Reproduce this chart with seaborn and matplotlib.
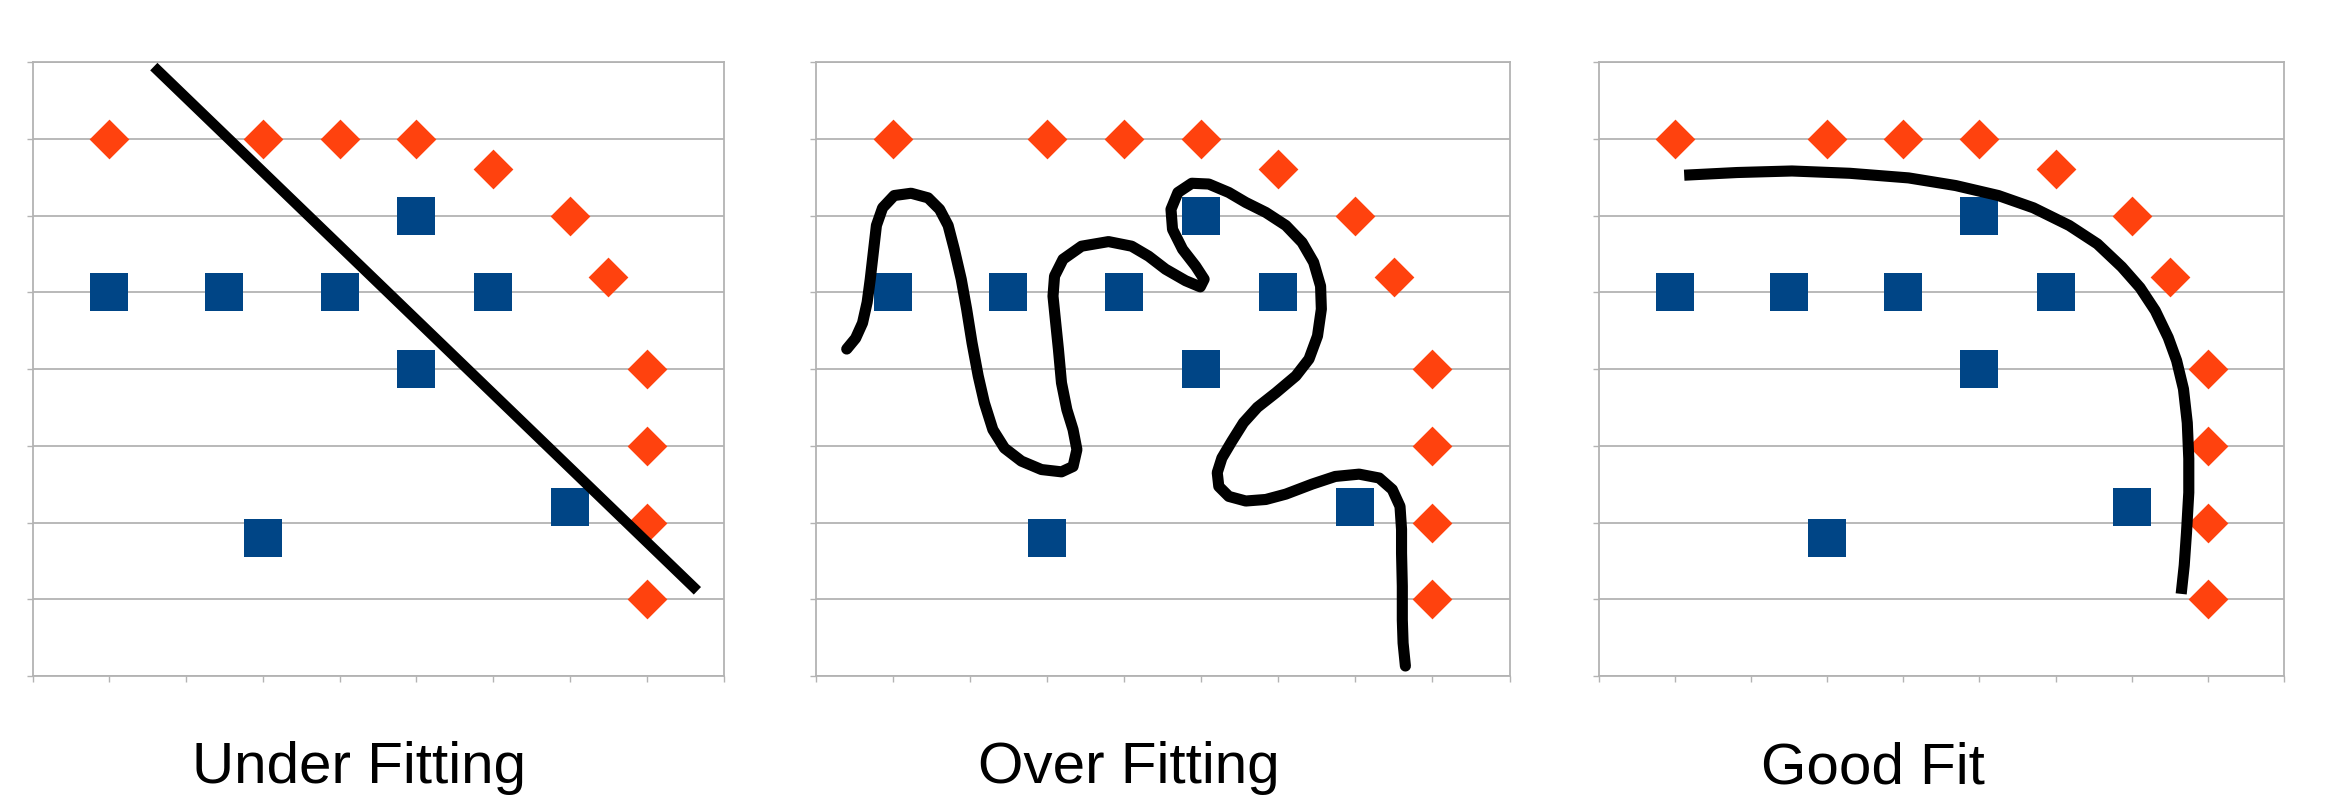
import numpy as np
import pandas as pd
import seaborn as sns
import matplotlib.pyplot as plt

sns.set_style("white")
plt.rcParams['font.family'] = ['Liberation Sans', 'DejaVu Sans']

# class A (orange diamonds) and class B (blue squares), same in every panel
diamond_x = [1, 3, 4, 5, 6, 7, 7.5, 8, 8, 8, 8]
diamond_y = [7, 7, 7, 7, 6.6, 6, 5.2, 4, 3, 2, 1]
square_x = [1, 2.5, 4, 5, 6, 5, 3, 7]
square_y = [5, 5, 5, 6, 5, 4, 1.8, 2.2]

# fitted boundaries
under_x = [1.58, 8.66]
under_y = [7.94, 1.11]

over_x = [0.405, 0.52, 0.61, 0.67, 0.71, 0.75, 0.79, 0.87, 1.02, 1.24, 1.46, 1.61, 1.72,
          1.80, 1.89, 1.96, 2.03, 2.11, 2.19, 2.30, 2.45, 2.67, 2.93, 3.19, 3.34, 3.39,
          3.34, 3.26, 3.19, 3.15, 3.11, 3.08, 3.10, 3.21, 3.45, 3.80, 4.10, 4.32, 4.54,
          4.80, 4.99, 5.04, 4.93, 4.76, 4.63, 4.61, 4.70, 4.88, 5.10, 5.36, 5.58, 5.84,
          6.10, 6.31, 6.46, 6.55, 6.56, 6.51, 6.40, 6.23, 5.97, 5.73, 5.55, 5.40, 5.27,
          5.21, 5.23, 5.36, 5.58, 5.84, 6.10, 6.44, 6.74, 7.05, 7.31, 7.48, 7.58, 7.60,
          7.60, 7.61, 7.61, 7.62, 7.65]
over_y = [4.26, 4.40, 4.60, 4.87, 5.17, 5.52, 5.87, 6.10, 6.26, 6.29, 6.23, 6.08, 5.87,
          5.56, 5.17, 4.78, 4.34, 3.91, 3.56, 3.21, 2.97, 2.80, 2.69, 2.66, 2.73, 2.95,
          3.21, 3.47, 3.82, 4.26, 4.65, 4.95, 5.21, 5.43, 5.60, 5.66, 5.60, 5.47, 5.30,
          5.15, 5.07, 5.17, 5.34, 5.56, 5.82, 6.08, 6.30, 6.42, 6.41, 6.30, 6.17, 6.04,
          5.87, 5.65, 5.39, 5.08, 4.78, 4.43, 4.13, 3.91, 3.69, 3.50, 3.30, 3.06, 2.84,
          2.65, 2.47, 2.34, 2.28, 2.30, 2.37, 2.50, 2.60, 2.63, 2.58, 2.43, 2.21, 1.91,
          1.60, 1.17, 0.73, 0.43, 0.13]

good_x = [1.125, 1.82, 2.54, 3.30, 4.07, 4.69, 5.25, 5.71, 6.18, 6.55, 6.87, 7.11, 7.31,
          7.48, 7.59, 7.68, 7.73, 7.75, 7.75, 7.72, 7.69, 7.65]
good_y = [6.525, 6.56, 6.58, 6.55, 6.49, 6.39, 6.26, 6.10, 5.87, 5.63, 5.33, 5.06, 4.76,
          4.41, 4.11, 3.74, 3.30, 2.83, 2.39, 1.87, 1.44, 1.07]

titles = ["Under Fitting", "Over Fitting", "Good Fit"]
title_x = [359, 1129, 1873]

orange = "#ff420e"
blue = "#004586"
grey = "#b3b3b3"

fig = plt.figure(figsize=(23.25, 8.1), dpi=100)
W, H = 2325, 810
boxes = [(32.5, 723.5), (815.5, 1509.5), (1598.5, 2284)]
top, bottom = 62, 676

fits = [(under_x, under_y, "butt", 7.5), (over_x, over_y, "round", 8),
        (good_x, good_y, "butt", 8)]

dia = pd.DataFrame({"x": diamond_x, "y": diamond_y})
sq = pd.DataFrame({"x": square_x, "y": square_y})

for (l, r), (fx, fy, cap, lw), title, tx in zip(boxes, fits, titles, title_x):
    ax = fig.add_axes([l / W, (H - bottom) / H, (r - l) / W, (bottom - top) / H])
    ax.set_xlim(0, 9)
    ax.set_ylim(0, 8)
    ax.set_yticks(range(0, 9))
    ax.set_xticks(range(0, 10))
    ax.yaxis.grid(True, color=grey, linewidth=1.3)
    ax.xaxis.grid(False)
    ax.set_axisbelow(True)
    for s in ax.spines.values():
        s.set_color(grey)
        s.set_linewidth(1.3)
    ax.tick_params(axis="both", direction="out", length=4.5, width=1, color=grey,
                   labelleft=False, labelbottom=False, left=True, bottom=True)

    sns.scatterplot(data=dia, x="x", y="y", ax=ax, marker="D", s=410, color=orange,
                    linewidth=0, clip_on=False, zorder=3)
    sns.scatterplot(data=sq, x="x", y="y", ax=ax, marker="s", s=760, color=blue,
                    linewidth=0, clip_on=False, zorder=3)
    fit = pd.DataFrame({"x": fx, "y": fy})
    sns.lineplot(data=fit, x="x", y="y", ax=ax, sort=False, estimator=None,
                 color="black", linewidth=lw, zorder=4)
    for ln in ax.lines:
        ln.set_solid_capstyle(cap)
        ln.set_solid_joinstyle("round")
    ax.set_xlabel("")
    ax.set_ylabel("")

    fig.text(tx / W, (H - 783) / H, title, ha="center", va="baseline",
             fontsize=42, color="black")

fig.savefig("out.png", dpi=100, facecolor="white")
